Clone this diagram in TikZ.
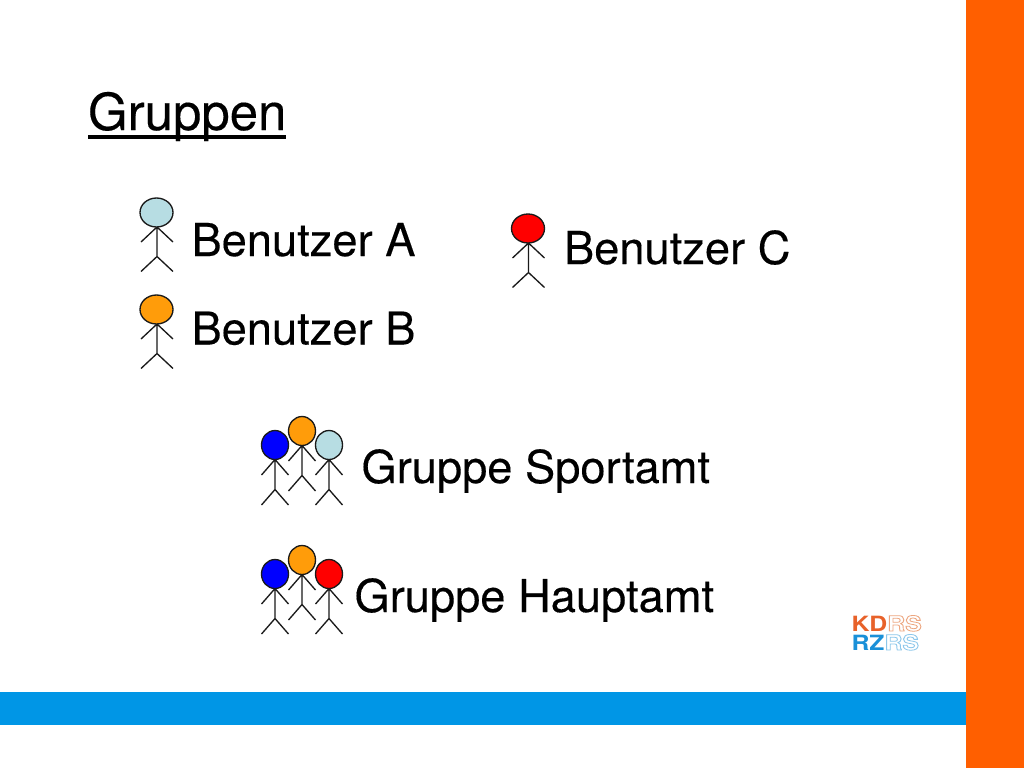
\documentclass[tikz,border=0pt]{standalone}
\usepackage{fontspec}
\setmainfont{TeX Gyre Heros}[FakeBold=0.25]
\newfontfamily\logofont{TeX Gyre Heros Bold}
\definecolor{barorange}{HTML}{FF5F00}
\definecolor{barblue}{HTML}{0096E6}
\definecolor{headlight}{HTML}{B7DDE3}
\definecolor{headorange}{HTML}{FF9C0A}
\definecolor{logoorange}{HTML}{E8622A}
\definecolor{logoblue}{HTML}{1A90D8}
\definecolor{limb}{HTML}{1A1A1A}
\newcommand{\outl}[2]{\special{pdf:code q #1 RG 0.6 w 1 Tr}#2\special{pdf:code 0 Tr Q}}
\tikzset{
  x=0.75pt,y=-0.75pt,
  label text/.style={anchor=base west,inner sep=0pt,outer sep=0pt,font=\fontsize{33.95pt}{40pt}\selectfont,text=black},
  title text/.style={label text,font=\fontsize{38.25pt}{46pt}\selectfont},
  logo text/.style={anchor=base west,inner sep=0pt,outer sep=0pt,font=\fontsize{15.75pt}{18pt}\logofont,xscale=1.18},
  bodyline/.style={draw=limb,line width=1pt},
  pics/big/.style={code={
    \draw[bodyline] (0.5,14.5) -- (0.5,44) (-15.5,29.5) -- (0.5,14.5) -- (16.5,29.5) (-15.5,59) -- (0.5,44) -- (16.5,59);
    \draw[limb,line width=1pt,fill=#1] (0,0) ellipse[x radius=16.5,y radius=14.5];
  }},
  pics/small/.style={code={
    \draw[bodyline] (0,14.5) -- (0,44.5) (-13.5,30) -- (0,14.5) -- (13.5,30) (-13.5,60) -- (0,44.5) -- (13.5,60);
    \draw[limb,line width=1pt,fill=#1] (0,0) ellipse[x radius=13.5,y radius=14.5];
  }},
}
\begin{document}
\begin{tikzpicture}
\useasboundingbox (0,0) rectangle (1024,768);
\fill[white] (0,0) rectangle (1024,768);
\fill[barblue] (0,692) rectangle (966,725);
\fill[barorange] (966,0) rectangle (1024,768);

\node[title text] (title) at (88,130) {Gruppen};
\draw[black,line width=2.8pt] ([yshift=-5pt]title.base west) -- ([yshift=-5pt]title.base east);

\pic at (156.5,212.5) {big=headlight};
\pic at (156.5,309.5) {big=headorange};
\pic at (528,228.5) {big=red};
\node[label text] (a) at (191.5,256) {Benutzer A};
\node[label text] (b) at (191.5,344.5) {Benutzer B};
\node[label text] (c) at (564,264) {Benutzer C};

\pic at (302,431) {small=headorange};
\pic at (275,445) {small=blue};
\pic at (329,445) {small=headlight};
\node[label text] (sport) at (361.5,483) {Gruppe Sportamt};

\pic at (302,560) {small=headorange};
\pic at (275,574) {small=blue};
\pic at (329,574) {small=red};
\node[label text] (haupt) at (354.5,612) {Gruppe Hauptamt};

\node[logo text] (kd) at (851.5,631) {\textcolor{logoorange}{KD}\outl{0.93 0.65 0.5}{RS}};
\node[logo text] (rz) at (851.5,650) {\textcolor{logoblue}{RZ}\outl{0.55 0.78 0.92}{RS}};
\end{tikzpicture}
\end{document}
